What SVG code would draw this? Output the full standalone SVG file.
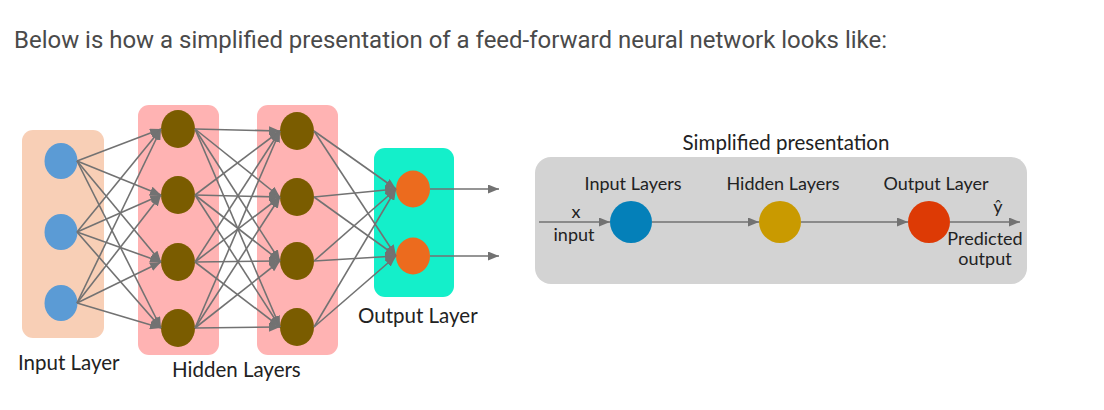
<svg xmlns="http://www.w3.org/2000/svg" width="1104" height="410" viewBox="0 0 1104 410">
<defs>
<marker id="ah" markerUnits="userSpaceOnUse" markerWidth="11" markerHeight="9" refX="11" refY="4.5" orient="auto">
<path d="M0,0 L11,4.5 L0,9 z" fill="#727272"/>
</marker>
<style>
.title{font-family:Roboto,"Liberation Sans",sans-serif;font-size:23px;fill:#4a4a4a}
.lbl{font-family:Lato,"Liberation Sans",sans-serif;font-size:20.5px;fill:#222}
.slbl{font-family:Lato,"Liberation Sans",sans-serif;font-size:18px;fill:#222}
.c{stroke:#727272;stroke-width:1.6;fill:none;marker-end:url(#ah)}
.inN{fill:#5b9bd5}
.hN{fill:#7a5c00}
.oN{fill:#ec6b1e}
</style>
</defs>
<rect width="1104" height="410" fill="#fff"/>
<text class="title" x="14" y="48" textLength="873" lengthAdjust="spacingAndGlyphs">Below is how a simplified presentation of a feed-forward neural network looks like:</text>

<g id="input-layer">
<rect x="22" y="130" width="82" height="208" rx="11" fill="#f8cfb6"/>
<ellipse class="inN" cx="61" cy="161" rx="16.5" ry="18"/>
<ellipse class="inN" cx="61" cy="232" rx="16.5" ry="18"/>
<ellipse class="inN" cx="61" cy="303" rx="16.5" ry="18"/>
<text class="lbl" x="18" y="370">Input Layer</text>
</g>
<g id="hidden-layer-1">
<rect x="138" y="105" width="81" height="250" rx="11" fill="#ffb3b3"/>
<ellipse class="hN" cx="178" cy="129" rx="17" ry="19"/>
<ellipse class="hN" cx="178" cy="195" rx="17" ry="19"/>
<ellipse class="hN" cx="178" cy="262" rx="17" ry="19"/>
<ellipse class="hN" cx="178" cy="328" rx="17" ry="19"/>
</g>
<g id="hidden-layer-2">
<rect x="257" y="105" width="81" height="250" rx="11" fill="#ffb3b3"/>
<ellipse class="hN" cx="297" cy="131" rx="17" ry="19"/>
<ellipse class="hN" cx="297" cy="197" rx="17" ry="19"/>
<ellipse class="hN" cx="297" cy="261" rx="17" ry="19"/>
<ellipse class="hN" cx="297" cy="327" rx="17" ry="19"/>
</g>
<text class="lbl" x="172" y="377">Hidden Layers</text>
<g id="output-layer">
<rect x="374" y="148" width="80" height="149" rx="11" fill="#14efca"/>
<ellipse class="oN" cx="413" cy="189" rx="17" ry="18.5"/>
<ellipse class="oN" cx="413" cy="256" rx="17" ry="18.5"/>
<text class="lbl" x="358" y="323">Output Layer</text>
</g>

<g id="connectors">
<line class="c" x1="77" y1="161" x2="161" y2="129"/>
<line class="c" x1="77" y1="161" x2="161" y2="195"/>
<line class="c" x1="77" y1="161" x2="161" y2="262"/>
<line class="c" x1="77" y1="161" x2="161" y2="328"/>
<line class="c" x1="77" y1="232" x2="161" y2="129"/>
<line class="c" x1="77" y1="232" x2="161" y2="195"/>
<line class="c" x1="77" y1="232" x2="161" y2="262"/>
<line class="c" x1="77" y1="232" x2="161" y2="328"/>
<line class="c" x1="77" y1="303" x2="161" y2="129"/>
<line class="c" x1="77" y1="303" x2="161" y2="195"/>
<line class="c" x1="77" y1="303" x2="161" y2="262"/>
<line class="c" x1="77" y1="303" x2="161" y2="328"/>

<line class="c" x1="195" y1="129" x2="280" y2="131"/>
<line class="c" x1="195" y1="129" x2="280" y2="197"/>
<line class="c" x1="195" y1="129" x2="280" y2="261"/>
<line class="c" x1="195" y1="129" x2="280" y2="327"/>
<line class="c" x1="195" y1="195" x2="280" y2="131"/>
<line class="c" x1="195" y1="195" x2="280" y2="197"/>
<line class="c" x1="195" y1="195" x2="280" y2="261"/>
<line class="c" x1="195" y1="195" x2="280" y2="327"/>
<line class="c" x1="195" y1="262" x2="280" y2="131"/>
<line class="c" x1="195" y1="262" x2="280" y2="197"/>
<line class="c" x1="195" y1="262" x2="280" y2="261"/>
<line class="c" x1="195" y1="262" x2="280" y2="327"/>
<line class="c" x1="195" y1="328" x2="280" y2="131"/>
<line class="c" x1="195" y1="328" x2="280" y2="197"/>
<line class="c" x1="195" y1="328" x2="280" y2="261"/>
<line class="c" x1="195" y1="328" x2="280" y2="327"/>

<line class="c" x1="314" y1="131" x2="396" y2="189"/>
<line class="c" x1="314" y1="131" x2="396" y2="256"/>
<line class="c" x1="314" y1="197" x2="396" y2="189"/>
<line class="c" x1="314" y1="197" x2="396" y2="256"/>
<line class="c" x1="314" y1="261" x2="396" y2="189"/>
<line class="c" x1="314" y1="261" x2="396" y2="256"/>
<line class="c" x1="314" y1="327" x2="396" y2="189"/>
<line class="c" x1="314" y1="327" x2="396" y2="256"/>

<line class="c" x1="430" y1="189" x2="499" y2="189"/>
<line class="c" x1="430" y1="256" x2="499" y2="256"/>
</g>

<g id="simplified-panel">
<text x="786" y="150" text-anchor="middle" style="font-family:Lato,'Liberation Sans',sans-serif;font-size:20.5px;fill:#222">Simplified presentation</text>
<rect x="535" y="157" width="492" height="127" rx="16" fill="#d3d3d3"/>
</g>
<g id="s-connectors">
<line class="c" x1="539" y1="222" x2="610" y2="222"/>
<line class="c" x1="652" y1="222" x2="759" y2="222"/>
<line class="c" x1="801" y1="222" x2="908" y2="222"/>
<line class="c" x1="950" y1="222" x2="1020" y2="222"/>
</g>
<g id="s-input">
<circle cx="631" cy="222" r="21" fill="#0480b9"/>
<text class="slbl" x="633" y="190" text-anchor="middle">Input Layers</text>
<text class="slbl" x="576" y="218" text-anchor="middle">x</text>
<text class="slbl" x="574" y="241" text-anchor="middle">input</text>
</g>
<g id="s-hidden">
<circle cx="780" cy="222" r="21" fill="#c99a00"/>
<text class="slbl" x="783" y="190" text-anchor="middle">Hidden Layers</text>
</g>
<g id="s-output">
<circle cx="929" cy="222" r="21" fill="#dd3a05"/>
<text class="slbl" x="936" y="190" text-anchor="middle">Output Layer</text>
<text class="slbl" x="998" y="213" text-anchor="middle">ŷ</text>
<text class="slbl" x="985" y="245" text-anchor="middle">Predicted</text>
<text class="slbl" x="985" y="265" text-anchor="middle">output</text>
</g>
</svg>
